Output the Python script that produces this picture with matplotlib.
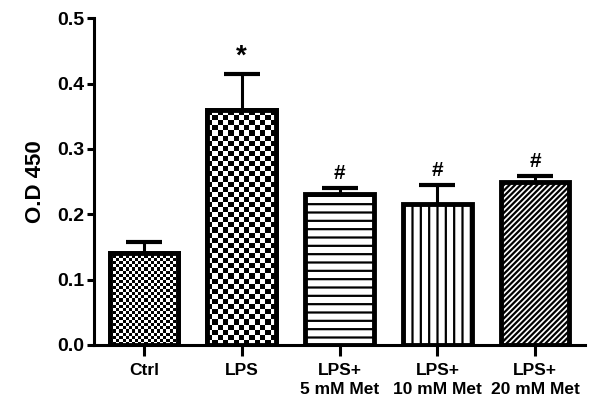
# coding: utf-8
# O.D 450 bar chart, GraphPad style, patterned bars
import matplotlib
matplotlib.use("Agg")
import matplotlib.pyplot as plt
import numpy as np

plt.rcParams['font.family'] = ['Liberation Sans', 'DejaVu Sans']
plt.rcParams['font.weight'] = 'bold'
plt.rcParams['hatch.linewidth'] = 1.6

#***data
groups = ['Ctrl', 'LPS', 'LPS+\n5 mM Met', 'LPS+\n10 mM Met', 'LPS+\n20 mM Met']
od_mean = [0.141, 0.359, 0.231, 0.216, 0.249]
od_err = [0.016, 0.055, 0.009, 0.029, 0.009]
marks = ['', '*', '#', '#', '#']
# fill pattern per bar: checker size (px) or matplotlib hatch
fills = [('check', 3), ('check', 5), ('hatch', '--'), ('hatch', '||'), ('hatch', '//////')]

fig = plt.figure(figsize=(6.02, 4.13), dpi=100)
ax = fig.add_axes([0.156, 0.165, 0.816, 0.791])

x_pos = np.arange(len(groups))
width = 0.7
# error bars behind the bars so only the upper half shows
ax.errorbar(x_pos, od_mean, yerr=od_err, fmt='none', ecolor='black',
            elinewidth=2.2, capsize=13, capthick=3, zorder=1)
bars = ax.bar(x_pos, od_mean, width, color='white', edgecolor='black',
              linewidth=3.5, zorder=2)
ax.set_xlim(-0.51, 4.51)
ax.set_ylim(0, 0.5)

for bar, (kind, val) in zip(bars, fills):
    if kind == 'hatch':
        bar.set_hatch(val)
    else:
        # checkerboard drawn as an image clipped to the bar
        x0, y0 = bar.get_x(), bar.get_y()
        w, h = bar.get_width(), bar.get_height()
        bb = ax.transData.transform([[x0, y0], [x0 + w, y0 + h]])
        nx = max(int((bb[1, 0] - bb[0, 0]) / val), 2)
        ny = max(int((bb[1, 1] - bb[0, 1]) / val), 2)
        board = (np.add.outer(np.arange(ny), np.arange(nx)) % 2).astype(float)
        im = ax.imshow(board, cmap='gray', extent=[x0, x0 + w, y0, y0 + h],
                       aspect='auto', interpolation='nearest', zorder=2.5)
        im.set_clip_path(bar)
        ax.bar(bar.get_x() + w / 2, h, w, fill=False, edgecolor='black',
               linewidth=3.5, zorder=3)

for x, m, e, t in zip(x_pos, od_mean, od_err, marks):
    if t:
        fs = 20 if t == '*' else 15
        ax.text(x, m + e + 0.008, t, ha='center', va='bottom', fontsize=fs,
                fontweight='bold')

ax.set_xticks(x_pos)
ax.set_xticklabels(groups, fontsize=12.5, fontweight='bold', linespacing=1.3)
ax.set_yticks(np.arange(0, 0.51, 0.1))
ax.set_yticklabels(['%.1f' % v for v in np.arange(0, 0.51, 0.1)],
                   fontsize=14, fontweight='bold')
ax.set_ylabel('O.D 450', fontsize=16, fontweight='bold', labelpad=8)
ax.tick_params(axis='x', length=8, width=2.2, pad=5)
ax.tick_params(axis='y', length=5, width=2.2, pad=2)
for s in ['top', 'right']:
    ax.spines[s].set_visible(False)
for s in ['left', 'bottom']:
    ax.spines[s].set_linewidth(2.2)

fig.savefig('out.png', dpi=100)
